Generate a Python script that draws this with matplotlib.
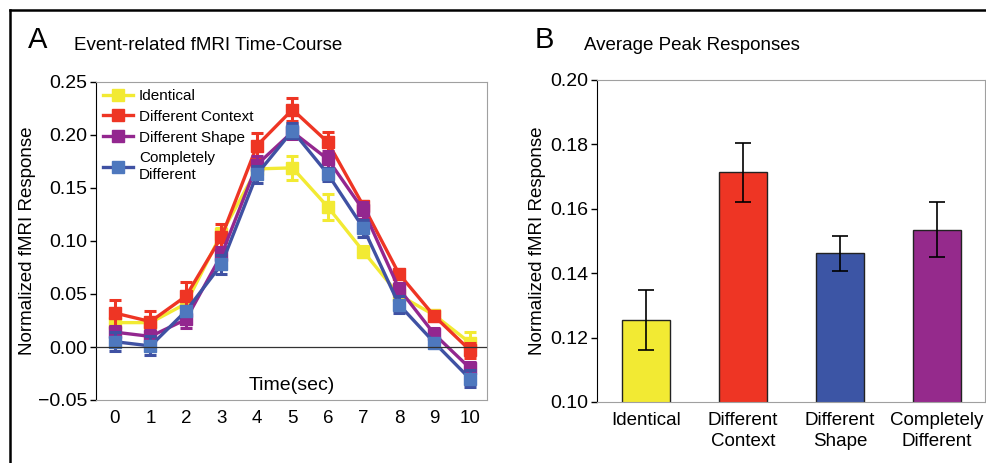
import matplotlib.pyplot as plt
from matplotlib.lines import Line2D
import numpy as np

plt.rcParams['font.family'] = ['Liberation Sans', 'DejaVu Sans']

# --- panel A data: time course ---
times = list(range(11))
identical = [0.023, 0.023, 0.041, 0.107, 0.168, 0.169, 0.132, 0.090, 0.049, 0.030, 0.004]
identical_err = [0.004, 0.004, 0.005, 0.005, 0.006, 0.011, 0.012, 0.005, 0.005, 0.004, 0.010]
diff_context = [0.032, 0.024, 0.048, 0.104, 0.190, 0.224, 0.193, 0.133, 0.069, 0.029, -0.003]
diff_context_err = [0.012, 0.010, 0.013, 0.012, 0.012, 0.011, 0.010, 0.005, 0.004, 0.004, 0.007]
diff_shape = [0.014, 0.010, 0.026, 0.087, 0.172, 0.203, 0.177, 0.129, 0.055, 0.012, -0.020]
diff_shape_err = [0.006, 0.006, 0.008, 0.007, 0.008, 0.007, 0.008, 0.008, 0.005, 0.006, 0.006]
completely = [0.005, 0.001, 0.034, 0.078, 0.163, 0.204, 0.163, 0.112, 0.040, 0.004, -0.030]
completely_err = [0.009, 0.009, 0.005, 0.009, 0.008, 0.007, 0.006, 0.008, 0.008, 0.004, 0.008]

# --- panel B data: average peaks ---
conditions = ['Identical', 'Different\nContext', 'Different\nShape', 'Completely\nDifferent']
peaks = [0.1256, 0.1713, 0.1462, 0.1535]
peaks_err = [0.0093, 0.0091, 0.0054, 0.0085]

YELLOW = '#F2EA33'
RED = '#EE3524'
PURPLE = '#93278F'
BLUE = '#3F51A3'
BLUE_MK = '#4E78BE'

fig = plt.figure(figsize=(9.86, 4.63), dpi=100)

# outer frame lines
fig.add_artist(Line2D([10 / 986, 1.0], [1 - 10 / 463] * 2, color='black', lw=1.8))
fig.add_artist(Line2D([10 / 986] * 2, [0, 1 - 10 / 463], color='black', lw=1.8))

# ---------- panel A ----------
axA = fig.add_axes([96 / 986, 1 - 400 / 463, 391 / 986, 318 / 463])
series = [
    ('Identical', identical, identical_err, YELLOW, YELLOW),
    ('Different Context', diff_context, diff_context_err, RED, RED),
    ('Different Shape', diff_shape, diff_shape_err, PURPLE, PURPLE),
    ('Completely\nDifferent', completely, completely_err, BLUE, BLUE_MK),
]
order = [0, 3, 2, 1]  # red ends up on top
for i in order:
    name, vals, errs, col, mk = series[i]
    axA.errorbar(times, vals, yerr=errs, color=col, lw=2.4, marker='s', ms=9,
                 mfc=mk, mec=mk, ecolor=col, elinewidth=2.2, capsize=4,
                 capthick=2.2, zorder=3 + i)
axA.axhline(0, color='#333333', lw=0.9, zorder=10)
axA.set_xlim(-0.535, 10.48)
axA.set_ylim(-0.05, 0.25)
axA.set_yticks([-0.05, 0, 0.05, 0.10, 0.15, 0.20, 0.25])
axA.set_yticklabels(['\u22120.05', '0.00', '0.05', '0.10', '0.15', '0.20', '0.25'], fontsize=14)
axA.set_xticks(times)
axA.set_xticklabels([str(t) for t in times], fontsize=13.5)
axA.tick_params(axis='x', length=0, pad=7)
axA.tick_params(axis='y', length=4, width=1, pad=2)
for s in ['top', 'right', 'bottom']:
    axA.spines[s].set_color('#A0A0A0')
axA.spines['left'].set_color('black')
axA.set_ylabel('Normalized fMRI Response', fontsize=13.5, labelpad=2)
axA.text(0.5, 0.02, 'Time(sec)', transform=axA.transAxes, ha='center',
         va='bottom', fontsize=14)
leg_h = [Line2D([], [], color=s[3], lw=2.4, marker='s', ms=8, mfc=s[4], mec=s[4])
         for s in series]
axA.legend(leg_h, [s[0] for s in series], loc='upper left', frameon=False,
           fontsize=11, handlelength=2.0, handletextpad=0.35, labelspacing=0.45,
           borderaxespad=0.1, borderpad=0.35)

fig.text(28 / 986, 1 - 48 / 463, 'A', fontsize=21, va='baseline')
fig.text(74 / 986, 1 - 50 / 463, 'Event-related fMRI Time-Course', fontsize=13.5, va='baseline')

# ---------- panel B ----------
axB = fig.add_axes([597 / 986, 1 - 402 / 463, 388 / 986, 322 / 463])
bar_cols = [YELLOW, RED, '#3C55A5', '#952A8C']
xpos = np.arange(len(conditions))
axB.bar(xpos, peaks, width=0.5, color=bar_cols, edgecolor='#222222', lw=1.0, zorder=2)
axB.errorbar(xpos, peaks, yerr=peaks_err, fmt='none', ecolor='black', elinewidth=1.2,
             capsize=6, capthick=1.2, zorder=3)
axB.set_xlim(-0.505, 3.495)
axB.set_ylim(0.10, 0.20)
axB.set_yticks([0.10, 0.12, 0.14, 0.16, 0.18, 0.20])
axB.set_yticklabels(['0.10', '0.12', '0.14', '0.16', '0.18', '0.20'], fontsize=14)
axB.set_xticks(xpos)
axB.set_xticklabels(conditions, fontsize=13.5, linespacing=1.35)
axB.tick_params(axis='x', length=0, pad=7)
axB.tick_params(axis='y', length=4, width=1, pad=2)
for s in ['top', 'right', 'bottom']:
    axB.spines[s].set_color('#A0A0A0')
axB.spines['left'].set_color('black')
axB.set_ylabel('Normalized fMRI Response', fontsize=13.5, labelpad=3)

fig.text(535 / 986, 1 - 48 / 463, 'B', fontsize=21, va='baseline')
fig.text(584 / 986, 1 - 50 / 463, 'Average Peak Responses', fontsize=13.5, va='baseline')

fig.savefig('out.png', dpi=100)
